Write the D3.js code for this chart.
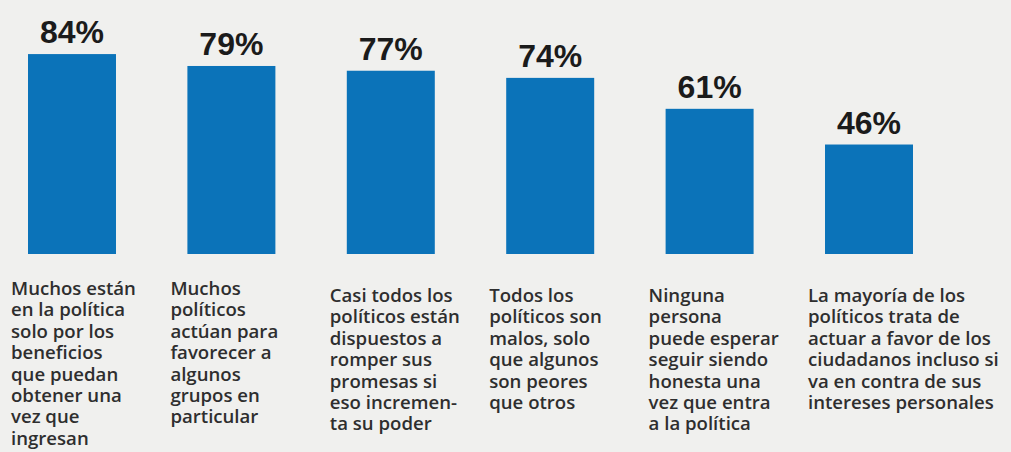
<!DOCTYPE html>
<html>
<head>
<meta charset="utf-8">
<script src="https://cdn.jsdelivr.net/npm/d3@7"></script>
<style>
  html, body { margin: 0; padding: 0; background: #f0f0ee; }
  svg { display: block; }
</style>
</head>
<body>
<svg id="chart" width="1011" height="452"></svg>
<script>
const categories = [
  "Muchos están en la política solo por los beneficios que puedan obtener una vez que ingresan",
  "Muchos políticos actúan para favorecer a algunos grupos en particular",
  "Casi todos los políticos están dispuestos a romper sus promesas si eso incrementa su poder",
  "Todos los políticos son malos, solo que algunos son peores que otros",
  "Ninguna persona puede esperar seguir siendo honesta una vez que entra a la política",
  "La mayoría de los políticos trata de actuar a favor de los ciudadanos incluso si va en contra de sus intereses personales"
];
const labelLines = [
  ["Muchos están", "en la política", "solo por los", "beneficios", "que puedan", "obtener una", "vez que", "ingresan"],
  ["Muchos", "políticos", "actúan para", "favorecer a", "algunos", "grupos en", "particular"],
  ["Casi todos los", "políticos están", "dispuestos a", "romper sus", "promesas si", "eso incremen-", "ta su poder"],
  ["Todos los", "políticos son", "malos, solo", "que algunos", "son peores", "que otros"],
  ["Ninguna", "persona", "puede esperar", "seguir siendo", "honesta una", "vez que entra", "a la política"],
  ["La mayoría de los", "políticos trata de", "actuar a favor de los", "ciudadanos incluso si", "va en contra de sus", "intereses personales"]
];
const values = [84, 79, 77, 74, 61, 46];
const labelTopBaseline = [295, 295, 302, 302, 302, 302];

const svg = d3.select("#chart");
const W = 1011, H = 452;

svg.append("rect").attr("width", W).attr("height", H).attr("fill", "#f0f0ee");

const x = d3.scaleBand()
  .domain(d3.range(categories.length))
  .range([28, 913])
  .paddingInner(0.448)
  .paddingOuter(0);

const y = d3.scaleLinear().domain([0, 100]).range([254, 16]);

const g = svg.append("g");

g.selectAll("rect.bar")
  .data(values)
  .join("rect")
  .attr("class", "bar")
  .attr("x", (d, i) => x(i))
  .attr("y", d => y(d))
  .attr("width", x.bandwidth())
  .attr("height", d => y(0) - y(d))
  .attr("fill", "#0b73b9");

g.selectAll("text.val")
  .data(values)
  .join("text")
  .attr("class", "val")
  .attr("x", (d, i) => x(i) + x.bandwidth() / 2)
  .attr("y", d => y(d) - 11)
  .attr("text-anchor", "middle")
  .attr("font-family", "'Liberation Sans', Arial, sans-serif")
  .attr("font-weight", "bold")
  .attr("font-size", 32)
  .attr("fill", "#1b1b1b")
  .text(d => d + "%");

const lineH = 21.4;
const lab = g.selectAll("text.cat")
  .data(labelLines)
  .join("text")
  .attr("class", "cat")
  .attr("font-family", "'Open Sans', sans-serif")
  .attr("font-weight", 600)
  .attr("font-size", 18.6)
  .attr("fill", "#2e2e2e")
  .attr("x", (d, i) => x(i) - 17)
  .attr("y", (d, i) => labelTopBaseline[i]);

lab.selectAll("tspan")
  .data((d, i) => d.map(t => ({ t, i })))
  .join("tspan")
  .attr("x", d => x(d.i) - 17)
  .attr("dy", (d, j) => j === 0 ? 0 : lineH)
  .text(d => d.t);
</script>
</body>
</html>
